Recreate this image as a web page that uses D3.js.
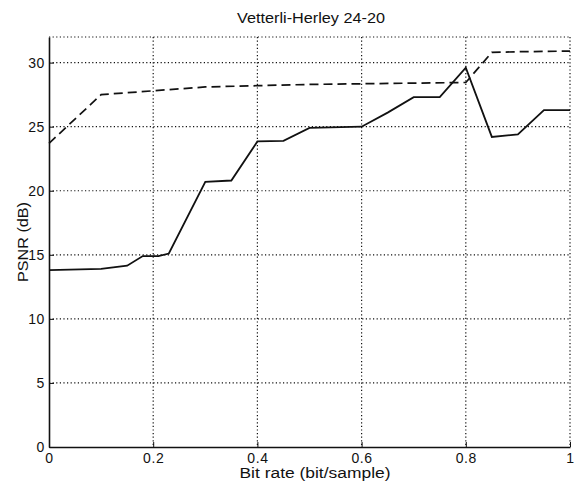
<!DOCTYPE html>
<html>
<head>
<meta charset="utf-8">
<script src="https://cdn.jsdelivr.net/npm/d3@7"></script>
<style>
	body { margin: 0; background: #fff; }
	svg { font-family: "Liberation Sans", Arial, sans-serif; }
</style>
</head>
<body>
<svg width="574" height="484"></svg>
<script>
// solid curve
const solidRate = [0, 0.1, 0.15, 0.18, 0.21, 0.23, 0.3, 0.35, 0.4, 0.45, 0.5, 0.6, 0.65, 0.7, 0.75, 0.8, 0.85, 0.9, 0.95, 1];
const solidPsnr = [13.8, 13.9, 14.15, 14.9, 14.9, 15.1, 20.7, 20.8, 23.85, 23.9, 24.9, 25.0, 26.1, 27.3, 27.3, 29.6, 24.2, 24.4, 26.3, 26.3];
// dashed curve
const dashRate = [0, 0.1, 0.2, 0.3, 0.4, 0.5, 0.6, 0.7, 0.8, 0.85, 0.9, 1];
const dashPsnr = [23.7, 27.5, 27.8, 28.1, 28.2, 28.3, 28.35, 28.4, 28.45, 30.8, 30.85, 30.9];

const xTicks = [0, 0.2, 0.4, 0.6, 0.8, 1];
const yTicks = [0, 5, 10, 15, 20, 25, 30];

const svg = d3.select("svg");
const mLeft = 49, mRight = 570, mTop = 37, mBottom = 447;

const x = d3.scaleLinear().domain([0, 1]).range([mLeft, mRight]);
const y = d3.scaleLinear().domain([0, 32]).range([mBottom, mTop]);

const ink = "#111";

// dotted grid
const grid = svg.append("g").attr("stroke", ink).attr("stroke-width", 1.2)
	.attr("stroke-dasharray", "1.2,2.4");
grid.selectAll(".gx").data(xTicks.slice(1)).join("line")
	.attr("x1", d => x(d)).attr("x2", d => x(d))
	.attr("y1", mTop).attr("y2", mBottom);
grid.selectAll(".gy").data(yTicks.slice(1).concat([32])).join("line")
	.attr("x1", mLeft).attr("x2", mRight)
	.attr("y1", d => y(d)).attr("y2", d => y(d));

// solid axes on left and bottom
svg.append("g")
	.attr("transform", "translate(0," + mBottom + ")")
	.call(d3.axisBottom(x).tickValues(xTicks).tickFormat(d3.format("")).tickSizeInner(-5).tickSizeOuter(0).tickPadding(6))
	.call(g => g.select(".domain").attr("stroke", ink).attr("stroke-width", 1.6))
	.call(g => g.selectAll(".tick line").attr("stroke", ink))
	.call(g => g.selectAll(".tick text").attr("fill", ink).attr("font-size", "14px")
		.attr("letter-spacing", "0.6px")
		.attr("font-family", "Liberation Sans, Arial, sans-serif"));

svg.append("g")
	.attr("transform", "translate(" + mLeft + ",0)")
	.call(d3.axisLeft(y).tickValues(yTicks).tickSizeInner(-5).tickSizeOuter(0).tickPadding(4))
	.call(g => g.select(".domain").attr("stroke", ink).attr("stroke-width", 1.6))
	.call(g => g.selectAll(".tick line").attr("stroke", ink))
	.call(g => g.selectAll(".tick text").attr("fill", ink).attr("font-size", "14px")
		.attr("letter-spacing", "0.6px")
		.attr("font-family", "Liberation Sans, Arial, sans-serif"));

// curves
const line = d3.line().x(d => x(d[0])).y(d => y(d[1]));

svg.append("path")
	.datum(dashRate.map((r, i) => [r, dashPsnr[i]]))
	.attr("d", line)
	.attr("fill", "none").attr("stroke", ink).attr("stroke-width", 1.7)
	.attr("stroke-dasharray", "9,5");

svg.append("path")
	.datum(solidRate.map((r, i) => [r, solidPsnr[i]]))
	.attr("d", line)
	.attr("fill", "none").attr("stroke", ink).attr("stroke-width", 1.8);

// labels
svg.append("text")
	.attr("x", 311).attr("y", 23)
	.attr("text-anchor", "middle").attr("font-size", "14px").attr("fill", ink)
	.attr("textLength", 148).attr("lengthAdjust", "spacingAndGlyphs")
	.text("Vetterli-Herley 24-20");

svg.append("text")
	.attr("x", 315).attr("y", 478)
	.attr("text-anchor", "middle").attr("font-size", "14px").attr("fill", ink)
	.attr("textLength", 151).attr("lengthAdjust", "spacingAndGlyphs")
	.text("Bit rate (bit/sample)");

svg.append("text")
	.attr("transform", "translate(28," + (mTop + mBottom) / 2 + ") rotate(-90)")
	.attr("text-anchor", "middle").attr("font-size", "14px").attr("fill", ink)
	.attr("textLength", 80).attr("lengthAdjust", "spacingAndGlyphs")
	.text("PSNR (dB)");
</script>
</body>
</html>
